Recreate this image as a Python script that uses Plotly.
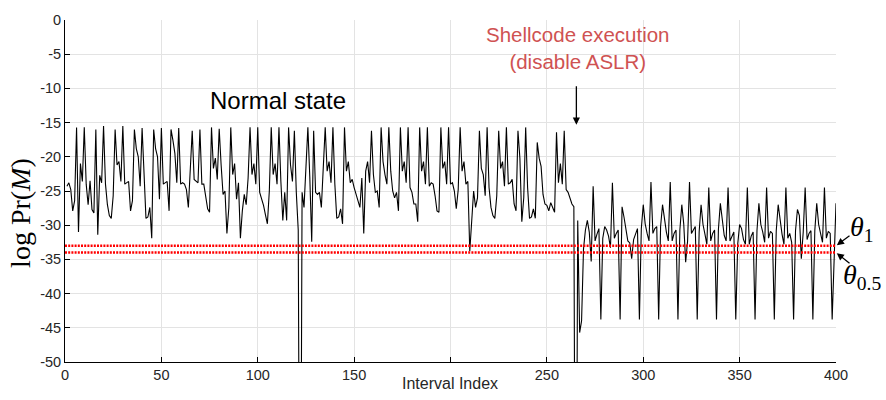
import plotly.graph_objects as go

# ---- data ----
interval_index = list(range(1, 401))

log_prob = [
    # 1-130 normal state
    -24.3, -23.8, -24.8, -27.9, -26.4, -15.7, -31.0, -21.0, -23.6, -15.7,
    -24.0, -27.0, -23.5, -27.7, -28.2, -16.0, -31.4, -22.7, -23.8, -15.5,
    -24.0, -27.0, -28.6, -29.0, -25.7, -16.0, -21.2, -20.7, -23.6, -15.5,
    -24.0, -23.8, -23.6, -27.9, -26.4, -16.0, -18.8, -20.0, -24.3, -15.8,
    -22.1, -29.0, -28.8, -27.4, -31.9, -16.0, -18.8, -20.0, -26.2, -15.8,
    -24.0, -23.8, -23.6, -27.9, -16.0, -17.6, -19.5, -23.8, -15.8, -24.0,
    -23.8, -24.0, -24.8, -27.4, -21.5, -16.2, -23.3, -23.6, -23.8, -16.0,
    -24.0, -24.0, -26.2, -27.6, -28.1, -15.7, -21.7, -20.2, -23.3, -15.9,
    -21.2, -25.5, -25.0, -31.2, -27.4, -15.7, -22.6, -21.0, -26.2, -23.8,
    -31.9, -27.9, -25.5, -27.0, -23.1, -15.7, -22.6, -21.0, -24.0, -15.7,
    -25.2, -26.0, -27.1, -28.5, -29.8, -25.0, -15.7, -22.6, -21.0, -24.0,
    -15.7, -23.6, -29.3, -25.2, -29.3, -15.7, -21.2, -23.6, -16.2, -25.2,
    -30.7, -100.0, -25.2, -27.4, -22.1, -15.7, -22.9, -32.4, -16.2,
    # 130-264
    -25.2, -25.5, -25.2, -27.4, -21.5, -15.7, -22.1, -20.7, -23.8, -15.7,
    -24.0, -29.0, -28.8, -27.6, -29.8, -15.7, -22.1, -20.7, -23.8, -23.3,
    -24.5, -25.5, -26.2, -27.4, -23.1, -31.2, -22.1, -20.7, -23.8, -16.2,
    -22.6, -25.2, -25.0, -27.4, -15.7, -20.7, -22.6, -24.0, -15.7, -22.1,
    -25.0, -26.0, -25.2, -27.9, -15.7, -22.1, -20.7, -23.8, -15.7, -24.5,
    -25.2, -26.9, -26.9, -29.5, -15.7, -22.1, -20.7, -24.0, -15.7, -24.3,
    -23.8, -24.0, -25.7, -27.9, -28.1, -15.7,
    -21.7, -20.7, -24.0, -15.7, -24.0, -23.8, -25.0, -27.6, -24.8, -15.7,
    -22.1, -20.7, -24.0, -23.6, -33.8, -28.8, -25.0, -27.4, -26.0, -16.2,
    -21.7, -22.6, -25.7, -15.7, -24.5, -27.4, -28.6, -29.0, -25.7, -16.2,
    -21.7, -20.7, -24.3, -15.7, -24.0, -23.8, -23.3, -26.9, -27.9, -16.2,
    -20.2, -29.5, -26.0, -15.7, -24.5, -29.0, -28.8, -27.6, -29.0, -17.9,
    -20.2, -21.4, -25.5, -26.9, -27.1, -27.9, -26.7, -27.4, -28.1, -16.4,
    -23.8, -21.0, -24.0, -16.2, -24.8, -25.2, -26.0, -26.9, -27.3,
    # 265-400 after shellcode execution
    -100.0, -29.3, -45.7, -44.0, -33.5, -30.7, -29.3, -31.0, -35.3, -24.3,
    -32.3, -31.3, -30.5, -43.8, -31.9, -30.2, -30.7, -31.6, -33.3, -23.8,
    -31.9, -31.2, -30.7, -43.8, -27.3, -28.8, -30.7, -32.3, -32.6, -34.9,
    -32.1, -31.2, -30.5, -43.8, -30.5, -27.0, -29.8, -31.2, -32.3, -23.7,
    -31.2, -30.5, -30.2, -43.8, -30.2, -27.0, -29.3, -31.0, -32.3, -23.7,
    -32.3, -31.2, -30.7, -43.8, -30.7, -27.0, -29.8, -35.4, -32.3, -23.7,
    -31.2, -30.7, -30.2, -43.8, -31.0, -27.0, -29.9, -31.3, -32.8, -24.5,
    -32.3, -31.2, -30.7, -43.8, -30.6, -26.8, -29.6, -31.5, -32.3, -24.5,
    -32.3, -31.6, -31.0, -43.8, -32.8, -29.9, -30.5, -32.1, -32.8, -24.5,
    -32.8, -31.6, -31.0, -43.8, -30.8, -26.8, -29.9, -31.0, -32.5, -24.5,
    -31.9, -30.9, -31.2, -43.8, -30.8, -27.0, -29.6, -31.3, -32.8, -24.5,
    -31.9, -31.2, -32.5, -43.8, -30.8, -27.7, -28.6, -34.9, -31.0, -24.5,
    -32.1, -31.2, -30.8, -43.8, -30.8, -26.8, -29.9, -31.0, -32.5, -24.5,
    -31.9, -30.9, -31.2, -43.8, -35.0, -26.8,
]

theta_1 = -33.0
theta_05 = -34.0
x_ticks = [0, 50, 100, 150, 200, 250, 300, 350, 400]
x_ticktext = ["0", "50", "100", "150", "", "250", "300", "350", "400"]
y_ticks = [0, -5, -10, -15, -20, -25, -30, -35, -40, -45, -50]
y_ticktext = ["0", "-5", "-10", "-15", "-20", "-25", "-30", "-35", "-40", "-45", "-50"]

fig = go.Figure()

fig.add_trace(go.Scatter(
    x=interval_index, y=log_prob, mode="lines",
    line=dict(color="black", width=1.1), showlegend=False, hoverinfo="skip",
))

for th in (theta_1, theta_05):
    fig.add_trace(go.Scatter(
        x=[0, 400], y=[th, th], mode="lines",
        line=dict(color="#ff0000", width=2.5, dash="2px,1.2px"),
        showlegend=False, hoverinfo="skip",
    ))

tick_font = dict(family="Liberation Sans, Arial, sans-serif", size=14.5, color="#262626")

fig.update_layout(
    width=886, height=400,
    margin=dict(l=65, r=50, t=13, b=38),
    paper_bgcolor="white", plot_bgcolor="white",
    xaxis=dict(
        range=[0, 400], tickvals=x_ticks, ticktext=x_ticktext, ticks="inside", ticklen=5,
        tickcolor="black", showline=True, linecolor="black", linewidth=1,
        showgrid=True, gridcolor="#e3e3e3", gridwidth=1, zeroline=False,
        tickfont=tick_font, mirror=False,
    ),
    yaxis=dict(
        range=[-50, 0], tickvals=y_ticks, ticktext=y_ticktext, ticks="inside",
        ticklen=5, tickcolor="black", showline=True, linecolor="black",
        linewidth=1, showgrid=True, gridcolor="#e3e3e3", gridwidth=1,
        zeroline=False, tickfont=tick_font,
    ),
)

annotations = [
    dict(text="Interval Index", xref="paper", yref="paper", x=0.4994, y=-0.063,
         showarrow=False, xanchor="center", yanchor="middle",
         font=dict(family="Liberation Sans, Arial, sans-serif", size=16, color="#262626")),
    dict(text="log&nbsp;Pr(<i>M</i>)", xref="paper", yref="paper", x=-0.0575, y=0.435,
         showarrow=False, textangle=-90, xanchor="center", yanchor="middle",
         font=dict(family="Liberation Serif, Times New Roman, serif", size=28, color="black")),
    dict(text="Normal state", x=110.4, y=-11.8, xref="x", yref="y", showarrow=False,
         font=dict(family="Liberation Sans, Arial, sans-serif", size=24, color="black")),
    dict(text="Shellcode execution<br>(disable ASLR)", x=266.0, y=-4.1, xref="x", yref="y",
         showarrow=False,
         font=dict(family="Liberation Sans, Arial, sans-serif", size=20.5, color="#cf5252")),
    dict(text="", x=265.3, y=-15.3, xref="x", yref="y", showarrow=True, ax=0, ay=-40,
         arrowhead=2, arrowsize=1.1, arrowwidth=1.3, arrowcolor="black"),
    dict(text="", x=400, y=theta_1, xref="x", yref="y", showarrow=True, ax=15, ay=-11,
         arrowhead=2, arrowsize=1.1, arrowwidth=1.3, arrowcolor="black", standoff=1),
    dict(text="", x=400, y=theta_05, xref="x", yref="y", showarrow=True, ax=15, ay=12,
         arrowhead=2, arrowsize=1.1, arrowwidth=1.3, arrowcolor="black", standoff=1),
    dict(text="<i>θ</i><sub>1</sub>", xref="paper", yref="paper", x=1.016, y=0.39,
         showarrow=False, xanchor="left", yanchor="middle",
         font=dict(family="Liberation Serif, Times New Roman, serif", size=28, color="black")),
    dict(text="<i>θ</i><sub>0.5</sub>", xref="paper", yref="paper", x=1.006, y=0.25,
         showarrow=False, xanchor="left", yanchor="middle",
         font=dict(family="Liberation Serif, Times New Roman, serif", size=28, color="black")),
]
fig.update_layout(annotations=annotations)

fig.write_html("out.html")
